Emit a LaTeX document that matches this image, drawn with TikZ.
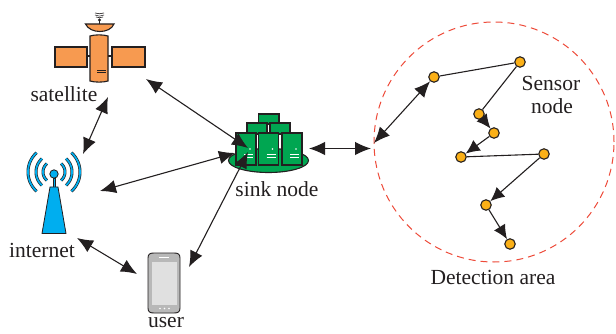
\documentclass[tikz,border=0pt]{standalone}
\usepackage{fontspec}
\setmainfont{Liberation Serif}
\usetikzlibrary{arrows.meta}
\definecolor{orng}{HTML}{F79A50}
\definecolor{grn}{HTML}{00A651}
\definecolor{blu}{HTML}{00AEEF}
\definecolor{yel}{HTML}{FBB017}
\definecolor{ink}{HTML}{231F20}
\definecolor{dashred}{HTML}{EE4B3A}
\tikzset{
  lbl/.style={font=\fontsize{21.5pt}{23pt}\selectfont,text=ink,inner sep=0pt,anchor=center},
  link/.style={draw=ink,line width=1.1pt,{Latex[length=16pt,width=13.5pt]}-{Latex[length=16pt,width=13.5pt]}},
  hop/.style={draw=ink,line width=1.1pt,-{Latex[length=14pt,width=13pt]}},
  plain/.style={draw=ink,line width=1.1pt},
  sensor/.style={circle,draw=ink,line width=1.1pt,fill=yel,minimum size=10.5pt,inner sep=0pt},
  orngbox/.style={draw=ink,line width=1.1pt,fill=orng},
  grnbox/.style={draw=ink,line width=1.1pt,fill=grn},
  wave/.style={line width=3pt,draw=ink},
  wavein/.style={line width=1.7pt,draw=blu}
}
\begin{document}
\begin{tikzpicture}[x=1pt,y=-1pt]
\useasboundingbox (0,0) rectangle (616,334);
\fill[white] (0,0) rectangle (616,334);
% satellite
\draw[plain] (87,56) -- (90,56) (108,56) -- (112,56);
\draw[orngbox] (55,47) rectangle (87,67) (112,47) rectangle (145,67);
\draw[orngbox] (90,36) .. controls (95,34.5) and (103,34.5) .. (108,36) -- (108,81) .. controls (103,82.5) and (95,82.5) .. (90,81) -- cycle;
\draw[plain,line width=0.8pt] (97,70.5) -- (106,70.5) (97,72.5) -- (106,72.5);
\draw[orngbox] (85.5,24) -- (114,24) .. controls (110,34) and (90,34) .. (85.5,24) -- cycle;
\draw[plain] (99.5,24) -- (99.5,19);
\fill[ink] (99.5,20) circle (1.6);
\draw[plain,line width=0.6pt] (96,17) .. controls (98,18) and (101,18) .. (103,17)
  (95,15) .. controls (98,16.5) and (101,16.5) .. (104,15)
  (95,13) .. controls (98,14) and (101,14) .. (104,13);
% tower
\foreach \r/\a in {26/48,18/48,11/50}{
  \draw[wave] plot[domain=180-\a:180+\a,samples=20] ({54+\r*cos(\x)},{172+\r*sin(\x)});
  \draw[wavein] plot[domain=180-\a:180+\a,samples=20] ({54+\r*cos(\x)},{172+\r*sin(\x)});
  \draw[wave] plot[domain=-\a:\a,samples=20] ({54+\r*cos(\x)},{172+\r*sin(\x)});
  \draw[wavein] plot[domain=-\a:\a,samples=20] ({54+\r*cos(\x)},{172+\r*sin(\x)});
}
\draw[draw=ink,line width=0.8pt,fill=blu] (53,178) rectangle (55,188);
\draw[draw=ink,line width=0.8pt,fill=blu] (50,187) -- (58,187) -- (66,233.5) -- (42,233.5) -- cycle;
\draw[draw=ink,line width=0.8pt,fill=blu] (54,174) circle (4.2);
% sink
\draw[grnbox] (268.5,160.5) ellipse (40 and 12);
\draw[grnbox] (258.5,114) rectangle (279,124);
\draw[grnbox] (247,123) rectangle (267,134);
\draw[grnbox] (270,123) rectangle (290,134);
\foreach \x in {236,258.5,282}{
  \draw[grnbox] (\x,133) rectangle ++(20,32);
  \fill[white] (\x+14,149) circle (0.9);
  \draw[white,line width=0.8pt] (\x+8,154) -- ++(9,0) (\x+8,157) -- ++(9,0);
}
% phone
\draw[draw=ink,line width=0.9pt,fill=black!28] (148,258) .. controls (148,254) and (150,253) .. (154,253) -- (174,253) .. controls (178,253) and (180,254) .. (180,258) -- (180,308) .. controls (180,312) and (178,313) .. (174,313) -- (154,313) .. controls (150,313) and (148,312) .. (148,308) -- cycle;
\fill[black!12] (152,262) rectangle (177,305);
\draw[white,line width=0.9pt] (159,257.5) -- (169,257.5);
\fill[white] (160,308.5) circle (0.8) (164.5,308.5) circle (0.8) (169,308.5) circle (0.8);
% area
\node[circle,draw=dashred,line width=1pt,dash pattern=on 7pt off 5pt,minimum size=240pt,inner sep=0pt] (area) at (494,142) {};
% names for icons
\coordinate (satA) at (108,97);
\coordinate (satB) at (146,79);
\coordinate (netA) at (83,154);
\coordinate (netB) at (100,191);
\coordinate (netC) at (77,238);
\coordinate (sinkA) at (248,148);
\coordinate (sinkB) at (235,153);
\coordinate (sinkC) at (248,152);
\coordinate (sinkD) at (309,148.5);
\coordinate (userA) at (137,274);
\coordinate (userB) at (189,267);
\coordinate (areaA) at (371,148.5);
\coordinate (areaB) at (374,143);
% sensors
\node[sensor] (a) at (434,77) {};
\node[sensor] (b) at (520,62) {};
\node[sensor] (c) at (479,114) {};
\node[sensor] (d) at (494,133) {};
\node[sensor] (e) at (461,157) {};
\node[sensor] (f) at (544,154) {};
\node[sensor] (g) at (486,205) {};
\node[sensor] (h) at (510,244) {};
% links
\draw[link] (satA) -- (netA);
\draw[link] (satB) -- (sinkA);
\draw[link] (netB) -- (sinkB);
\draw[link] (netC) -- (userA);
\draw[link] (userB) -- (sinkC);
\draw[link] (sinkD) -- (areaA);
\draw[link] (areaB) -- (a);
\draw[plain] (a) -- (b);
\draw[plain] (b) -- (c);
\draw[hop] (c) -- (d);
\draw[hop] (d) -- (e);
\draw[plain] (e) -- (f);
\draw[hop] (f) -- (g);
\draw[hop] (g) -- (h);
% labels
\node[lbl] (tsat) at (64,94) {satellite};
\node[lbl] (tnet) at (42,250) {internet};
\node[lbl] (tuser) at (166,323) {user};
\node[lbl] (tsink) at (277,189) {sink node};
\node[lbl] (tsen) at (551,83) {Sensor};
\node[lbl] (tnod) at (552,106) {node};
\node[lbl] (tdet) at (493,277) {Detection area};
\end{tikzpicture}
\end{document}
